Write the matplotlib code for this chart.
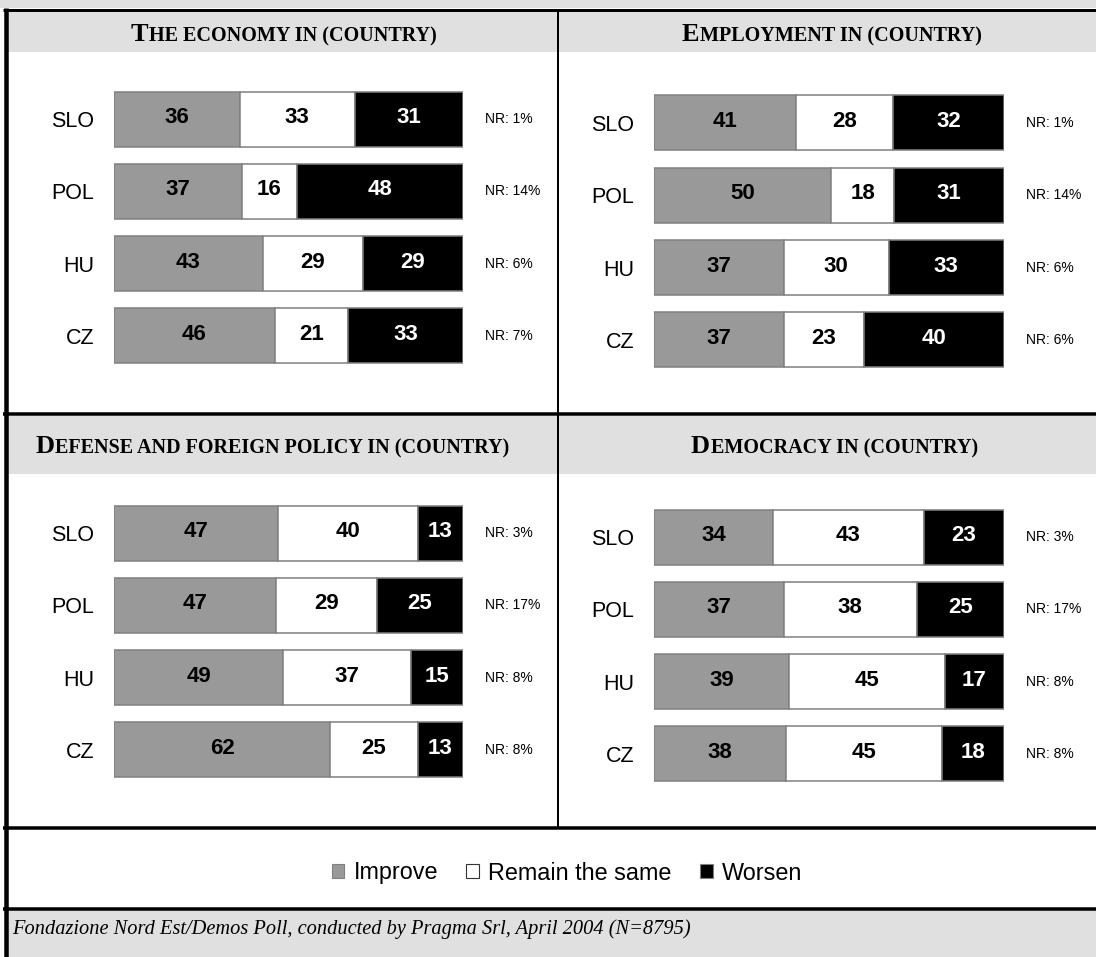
import matplotlib
matplotlib.use('Agg')
import matplotlib.pyplot as plt
from matplotlib.patches import Rectangle, Patch
import numpy as np

W, H = 1096, 957
DPI = 100

countries = ['SLO', 'POL', 'HU', 'CZ']
legend_labels = ['Improve', 'Remain the same', 'Worsen']

economy_improve = [36, 37, 43, 46]
economy_same = [33, 16, 29, 21]
economy_worsen = [31, 48, 29, 33]
economy_nr = ['1%', '14%', '6%', '7%']

employment_improve = [41, 50, 37, 37]
employment_same = [28, 18, 30, 23]
employment_worsen = [32, 31, 33, 40]
employment_nr = ['1%', '14%', '6%', '6%']

defense_improve = [47, 47, 49, 62]
defense_same = [40, 29, 37, 25]
defense_worsen = [13, 25, 15, 13]
defense_nr = ['3%', '17%', '8%', '8%']

democracy_improve = [34, 37, 39, 38]
democracy_same = [43, 38, 45, 45]
democracy_worsen = [23, 25, 17, 18]
democracy_nr = ['3%', '17%', '8%', '8%']

titles = [('T', 'HE ECONOMY IN (COUNTRY)'),
          ('E', 'MPLOYMENT IN (COUNTRY)'),
          ('D', 'EFENSE AND FOREIGN POLICY IN (COUNTRY)'),
          ('D', 'EMOCRACY IN (COUNTRY)')]

source_text = 'Fondazione Nord Est/Demos Poll, conducted by Pragma Srl, April 2004 (N=8795)'

GRAY = '#999999'
EDGE = '#808080'
BAND = '#e0e0e0'
SANS = 'Liberation Sans'
SERIF = 'Liberation Serif'

fig = plt.figure(figsize=(W / DPI, H / DPI), dpi=DPI)

# background / frame axes in pixel coordinates
bg = fig.add_axes([0, 0, 1, 1], zorder=0)
bg.set_xlim(0, W)
bg.set_ylim(H, 0)
bg.axis('off')

def px_lw(p):
    return p * 72.0 / DPI

bg.add_patch(Rectangle((0, 0), W, 8, color=BAND, lw=0))
bg.add_patch(Rectangle((6, 11), W - 6, 41, color=BAND, lw=0))
bg.add_patch(Rectangle((6, 416), W - 6, 58, color=BAND, lw=0))
bg.add_patch(Rectangle((6, 910), W - 6, H - 910, color=BAND, lw=0))
bg.plot([3, W], [9.5, 9.5], color='black', lw=px_lw(3), solid_capstyle='butt')
bg.plot([5.5, 5.5], [8, H], color='black', lw=px_lw(4.5), solid_capstyle='butt')
bg.plot([557.5, 557.5], [10, 828], color='black', lw=px_lw(2), solid_capstyle='butt')
for yy in (414, 828, 908.5):
    bg.plot([3, W], [yy, yy], color='black', lw=px_lw(3.5), solid_capstyle='butt')

renderer = fig.canvas.get_renderer()

def smallcaps_title(first, rest, cx, baseline_y, big=19, small=14.5):
    t1 = fig.text(0, 0, first, fontsize=big, fontweight='bold', family=SERIF,
                  va='baseline', ha='left')
    t2 = fig.text(0, 0, rest, fontsize=small, fontweight='bold', family=SERIF,
                  va='baseline', ha='left')
    w1 = t1.get_window_extent(renderer).width
    w2 = t2.get_window_extent(renderer).width
    x0 = cx - (w1 + w2) / 2.0
    yf = 1 - baseline_y / H
    t1.set_position((x0 / W, yf))
    t2.set_position(((x0 + w1 + 1) / W, yf))

panels = [
    (economy_improve, economy_same, economy_worsen, economy_nr, 114, 463, 119),
    (employment_improve, employment_same, employment_worsen, employment_nr, 654, 1004, 123),
    (defense_improve, defense_same, defense_worsen, defense_nr, 114, 463, 533),
    (democracy_improve, democracy_same, democracy_worsen, democracy_nr, 654, 1004, 537),
]
title_pos = [(283, 41), (831, 41), (272, 453), (834, 453)]

SPACING = 72.3
BAR_H = 55 / SPACING

for (imp, same, wor, nr, x0, x1, c0), (first, rest), (tcx, tby) in zip(panels, titles, title_pos):
    top = c0 - SPACING / 2
    bottom = c0 + 3 * SPACING + SPACING / 2
    ax = fig.add_axes([x0 / W, 1 - bottom / H, (x1 - x0) / W, (bottom - top) / H], zorder=2)
    ax.set_facecolor('none')
    imp = np.array(imp, float)
    same = np.array(same, float)
    wor = np.array(wor, float)
    tot = imp + same + wor
    a = imp / tot * 100
    b = same / tot * 100
    c = wor / tot * 100
    y = np.arange(len(countries))
    ax.barh(y, a, height=BAR_H, color=GRAY, edgecolor=EDGE, lw=1.1)
    ax.barh(y, b, left=a, height=BAR_H, color='white', edgecolor=EDGE, lw=1.1)
    ax.barh(y, c, left=a + b, height=BAR_H, color='black', edgecolor=EDGE, lw=1.1)
    for i in range(len(countries)):
        ax.text(a[i] / 2, i - 0.02, f'{int(imp[i])}', ha='center', va='center',
                fontsize=16, fontweight='bold', family=SANS, color='black')
        ax.text(a[i] + b[i] / 2, i - 0.02, f'{int(same[i])}', ha='center', va='center',
                fontsize=16, fontweight='bold', family=SANS, color='black')
        ax.text(a[i] + b[i] + c[i] / 2, i - 0.02, f'{int(wor[i])}', ha='center', va='center',
                fontsize=16, fontweight='bold', family=SANS, color='white')
        ax.text(106.2, i, 'NR: ' + nr[i], ha='left', va='center',
                fontsize=10, family=SANS, color='black', clip_on=False)
    ax.set_xlim(0, 100)
    ax.set_ylim(3.5, -0.5)
    ax.set_yticks(y)
    ax.set_yticklabels(countries, fontsize=15.5, family=SANS)
    ax.tick_params(axis='y', length=0, pad=14)
    ax.set_xticks([])
    for s in ax.spines.values():
        s.set_visible(False)
    smallcaps_title(first, rest, tcx, tby)

handles = [Patch(facecolor=GRAY, edgecolor=EDGE, lw=0.8),
           Patch(facecolor='white', edgecolor='#333333', lw=0.8),
           Patch(facecolor='black', edgecolor=EDGE, lw=0.8)]
fig.legend(handles, legend_labels, loc='center', bbox_to_anchor=(567 / W, 1 - 873 / H),
           ncol=3, frameon=False, prop={'family': SANS, 'size': 16.8},
           handlelength=0.55, handleheight=0.55, handletextpad=0.4, columnspacing=1.2)

fig.text(12 / W, 1 - 929 / H, source_text, fontsize=14.7, style='italic',
         family=SERIF, va='center', ha='left')

fig.savefig('out.png', dpi=DPI)
